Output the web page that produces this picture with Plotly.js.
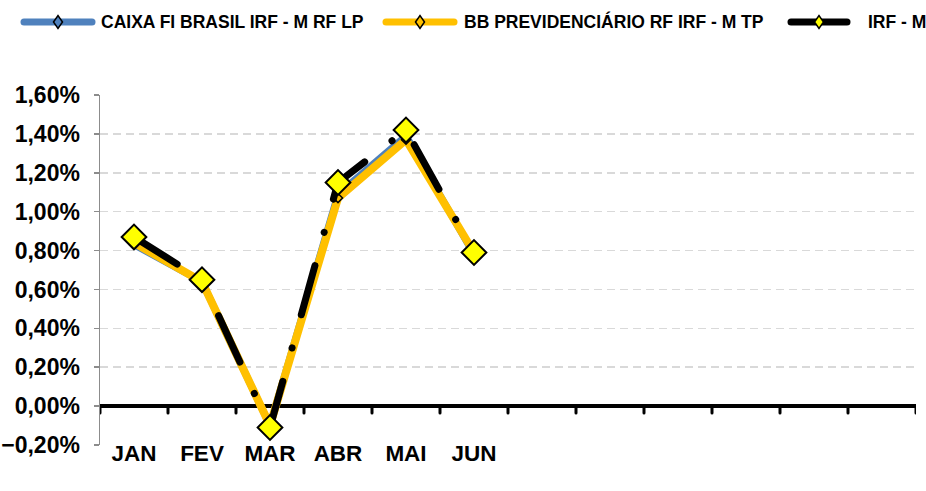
<!DOCTYPE html>
<html>
<head>
<meta charset="utf-8">
<script src="https://cdn.plot.ly/plotly-3.0.1.min.js"></script>
<style>
  html, body { margin: 0; padding: 0; background: #ffffff; }
  #chart { width: 926px; height: 491px; }
</style>
</head>
<body>
<div id="chart"></div>
<script>
// ---- data ----
const months = ['JAN', 'FEV', 'MAR', 'ABR', 'MAI', 'JUN', 'JUL', 'AGO', 'SET', 'OUT', 'NOV', 'DEZ'];
const tickLabels = ['JAN', 'FEV', 'MAR', 'ABR', 'MAI', 'JUN', '', '', '', '', '', ''];
const dataMonths = ['JAN', 'FEV', 'MAR', 'ABR', 'MAI', 'JUN'];
const seriesNames = ['CAIXA FI BRASIL IRF - M RF LP', 'BB PREVIDENCIÁRIO RF IRF - M TP', 'IRF - M'];
const caixa = [0.0083, 0.0064, -0.0010, 0.0109, 0.0139, 0.0078];
const bb    = [0.0084, 0.0064, -0.0010, 0.0107, 0.0137, 0.0079];
const irfm  = [0.0087, 0.0065, -0.0011, 0.0115, 0.0142, 0.0079];
const yRange = [-0.002, 0.016];
const yStep = 0.002;

// ---- styles ----
const FONT = 'Liberation Sans, Arial, sans-serif';
const W = 926, H = 491;
const M = { l: 100, r: 10, t: 95, b: 46 };
const colors = ['#4f81bd', '#ffc000', '#000000'];
const markerFill = ['#4f81bd', '#ffc000', '#ffff00'];

// helpers: container pixels -> paper coordinates
const px = v => (v - M.l) / (W - M.l - M.r);
const py = v => (H - M.b - v) / (H - M.t - M.b);

const traces = [
  {
    x: dataMonths, y: caixa, name: seriesNames[0], type: 'scatter', mode: 'lines+markers',
    line: { color: colors[0], width: 7 },
    marker: { symbol: 'diamond', size: 7, color: markerFill[0], line: { color: '#000000', width: 1.5 } }
  },
  {
    x: dataMonths, y: bb, name: seriesNames[1], type: 'scatter', mode: 'lines+markers',
    line: { color: colors[1], width: 8 },
    marker: { symbol: 'diamond', size: 7, color: markerFill[1], line: { color: '#000000', width: 1.5 } }
  },
  {
    x: dataMonths, y: irfm, name: seriesNames[2], type: 'scatter', mode: 'lines+markers',
    line: { color: colors[2], width: 7, dash: '51px,34.5px,0.1px,34.4px' },
    marker: { symbol: 'diamond', size: 19, color: markerFill[2], line: { color: '#000000', width: 2 } }
  }
];

// ---- manual legend (one row, long line symbols) ----
const legendY = 22;
const legendItems = [
  { x0: 21, x1: 95, tx: 99 },
  { x0: 383, x1: 457, tx: 462 },
  { x0: 788, x1: 850, tx: 866 }
];
const shapes = [];
const annotations = [];
legendItems.forEach(function (it, i) {
  shapes.push({
    type: 'line', xref: 'paper', yref: 'paper',
    x0: px(it.x0 + 3), x1: px(it.x1 - 3), y0: py(legendY), y1: py(legendY),
    line: { color: colors[i], width: 7 }
  });
  const cx = (it.x0 + it.x1) / 2;
  shapes.push({
    type: 'path', xref: 'paper', yref: 'paper',
    xsizemode: 'pixel', ysizemode: 'pixel', xanchor: px(cx), yanchor: py(legendY),
    path: 'M-4.5,0L0,6.5L4.5,0L0,-6.5Z',
    fillcolor: markerFill[i], line: { color: '#000000', width: 1.5 }
  });
  annotations.push({
    xref: 'paper', yref: 'paper', x: px(it.tx), y: py(legendY),
    xanchor: 'left', yanchor: 'middle', showarrow: false,
    text: seriesNames[i],
    font: { family: FONT, size: 17.5, color: '#000000', weight: 'bold' }
  });
});

// ---- x-axis tick marks hanging from the zero line, at category boundaries ----
for (let i = 0; i <= months.length; i++) {
  shapes.push({
    type: 'line', xref: 'x', yref: 'y',
    ysizemode: 'pixel', yanchor: 0, y0: 0, y1: -7,
    x0: i - 0.5, x1: i - 0.5,
    line: { color: '#000000', width: 3 }
  });
}

const layout = {
  width: W, height: H,
  margin: M,
  paper_bgcolor: '#ffffff', plot_bgcolor: '#ffffff',
  separators: ',.',
  font: { family: FONT, color: '#000000' },
  showlegend: false,
  shapes: shapes,
  annotations: annotations,
  xaxis: {
    type: 'category', categoryorder: 'array', categoryarray: months,
    range: [-0.5, months.length - 0.5],
    tickmode: 'array', tickvals: months, ticktext: tickLabels,
    showline: false, showgrid: false, zeroline: false, ticks: '',
    ticklabelstandoff: -8,
    tickfont: { family: FONT, size: 22.5, color: '#000000', weight: 'bold' },
    fixedrange: true
  },
  yaxis: {
    range: yRange, tick0: yRange[0], dtick: yStep, tickformat: '.2%',
    showline: true, linecolor: '#8c8c8c', linewidth: 1.5,
    ticks: 'outside', ticklen: 5, tickcolor: '#8c8c8c', tickwidth: 1.5,
    showgrid: true, gridcolor: '#d9d9d9', gridwidth: 1.5, griddash: '8px,5px',
    zeroline: true, zerolinecolor: '#000000', zerolinewidth: 4.5,
    ticklabelstandoff: 9,
    tickfont: { family: FONT, size: 23, color: '#000000', weight: 'bold' },
    fixedrange: true
  }
};

Plotly.newPlot('chart', traces, layout, { displayModeBar: false, staticPlot: true }).then(function () {
  const lines = document.querySelectorAll('.scatterlayer .trace .js-line');
  lines.forEach(function (p) { p.style.strokeLinejoin = 'round'; });
  if (lines[2]) lines[2].style.strokeLinecap = 'round';
  document.querySelectorAll('.shapelayer path').forEach(function (p) {
    p.style.strokeLinecap = 'round';
  });
});
</script>
</body>
</html>
